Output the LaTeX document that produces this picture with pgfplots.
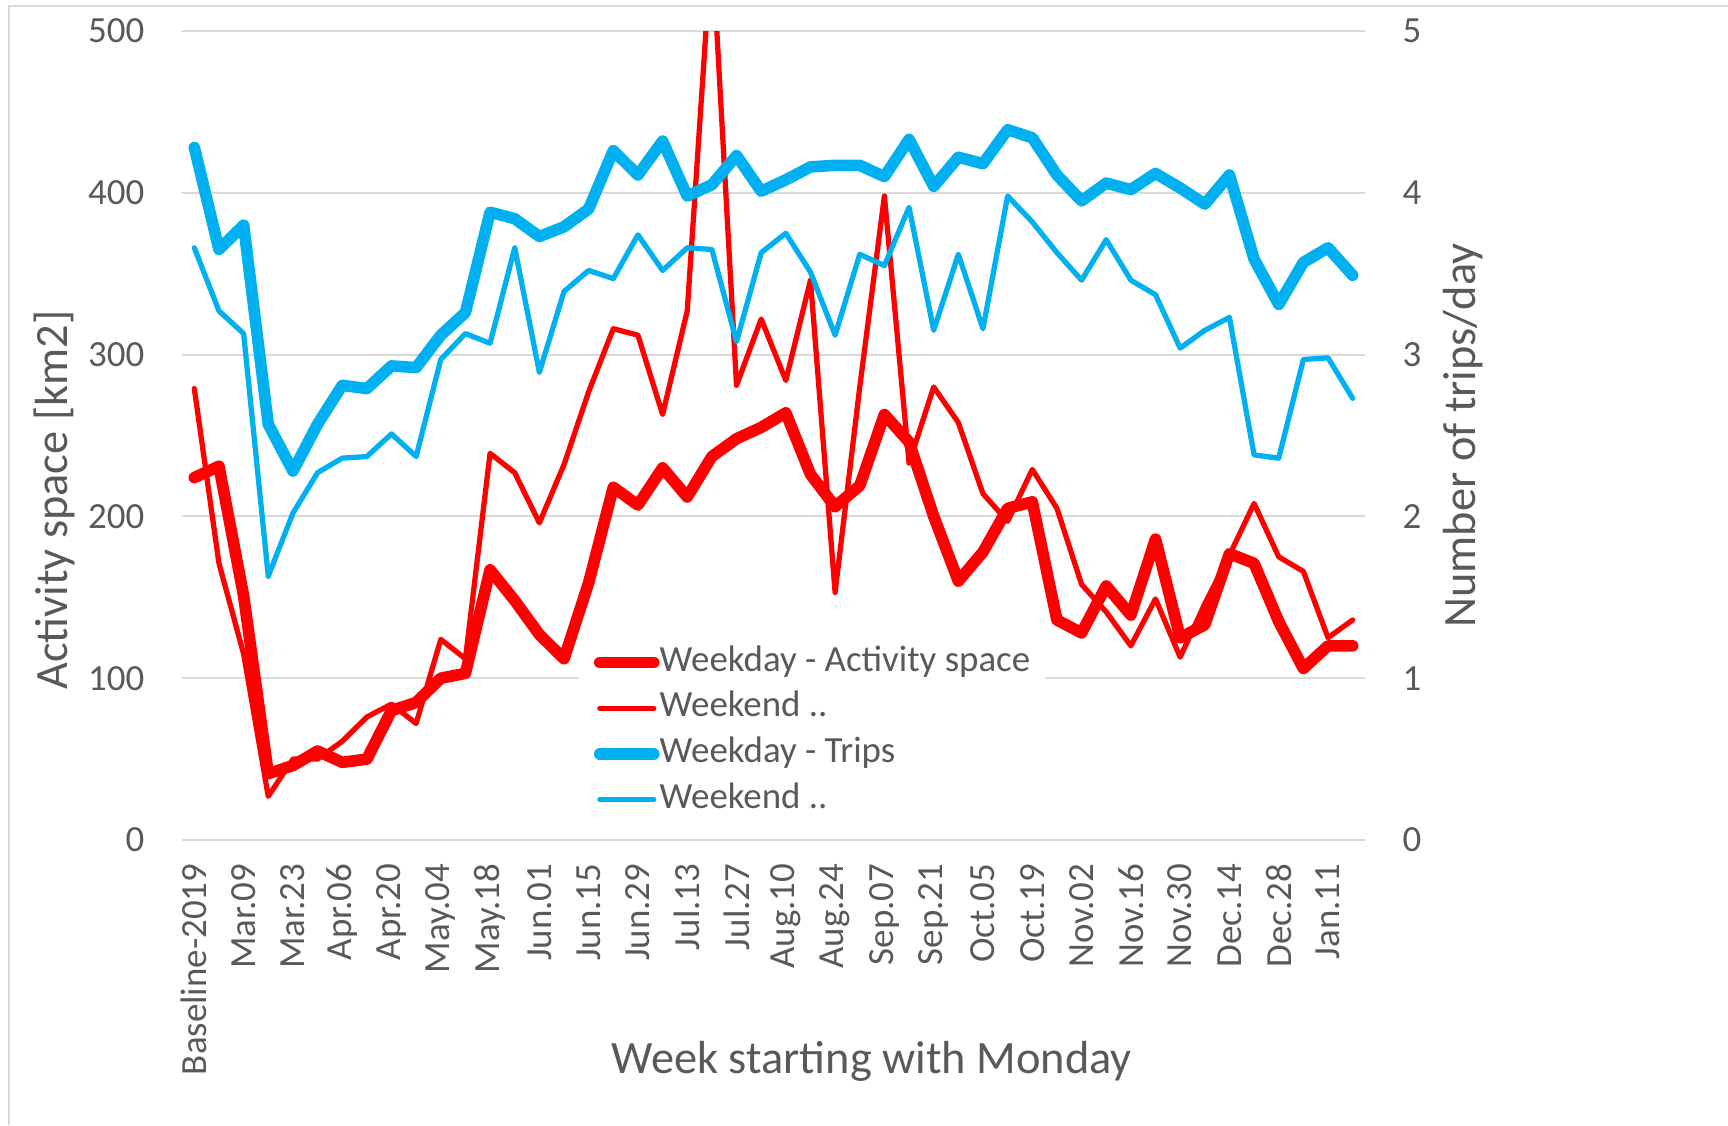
\documentclass[border=0pt]{standalone}
\usepackage{fontspec}
\setmainfont{Carlito}
\usepackage{pgfplots}
\usepackage{pgfplotstable}
\pgfplotsset{compat=1.18}

\definecolor{exred}{HTML}{FF0000}
\definecolor{exblue}{HTML}{00B0F0}
\definecolor{txtgray}{HTML}{595959}
\definecolor{gridgray}{HTML}{D9D9D9}

% week index, weekday / weekend activity space [km2], weekday / weekend trips per day
\pgfplotstableread{
idx wdact weact wdtrip wetrip
0  224 279 4.28 3.66
1  231 171 3.65 3.27
2  151 115 3.80 3.13
3  41  27  2.57 1.63
4  46  50  2.28 2.02
5  55  50  2.57 2.27
6  48  61  2.81 2.36
7  50  76  2.79 2.37
8  80  84  2.93 2.51
9  85  72  2.92 2.37
10 100 124 3.12 2.97
11 103 112 3.26 3.13
12 167 239 3.88 3.07
13 148 227 3.84 3.66
14 127 196 3.73 2.89
15 112 232 3.79 3.39
16 159 277 3.90 3.52
17 218 316 4.26 3.47
18 207 312 4.11 3.74
19 230 263 4.32 3.52
20 212 327 3.98 3.66
21 237 555 4.05 3.65
22 248 281 4.23 3.08
23 255 322 4.01 3.63
24 264 284 4.08 3.75
25 226 346 4.16 3.51
26 206 153 4.17 3.12
27 219 280 4.17 3.62
28 263 398 4.10 3.55
29 246 233 4.33 3.91
30 200 280 4.04 3.15
31 160 258 4.22 3.62
32 178 214 4.18 3.16
33 205 197 4.39 3.98
34 209 229 4.34 3.82
35 136 205 4.11 3.63
36 128 158 3.95 3.46
37 157 141 4.06 3.71
38 139 120 4.02 3.46
39 186 149 4.12 3.37
40 125 113 4.03 3.04
41 133 146 3.93 3.15
42 177 176 4.11 3.23
43 171 208 3.59 2.38
44 135 175 3.31 2.36
45 106 166 3.57 2.97
46 120 125 3.66 2.98
47 120 136 3.49 2.73
}\weeks

\tikzset{
  titlefont/.style={font=\fontsize{13.2}{15}\selectfont, text=txtgray},
  heavyline/.style={line width=3.3pt, line cap=round, line join=round},
  lightline/.style={line width=1.5pt, line cap=round, line join=round},
}

\pgfplotsset{
  base/.style={
    at={(1.82cm,2.85cm)}, anchor=south west,
    width=11.83cm, height=8.09cm, scale only axis,
    xmin=-0.5, xmax=47.5,
    major tick length=0pt,
    axis line style={draw=none},
    no markers,
    tick label style={font=\fontsize{10.5}{12}\selectfont, text=txtgray},
    /pgf/number format/assume math mode=true,
  },
}

\begin{document}
\begin{tikzpicture}
\path[use as bounding box] (0,0) rectangle (17.28,11.25);
\draw[gridgray, line width=0.6pt] (0.09,0) -- (0.09,11.19) -- (17.28,11.19);

\begin{axis}[base,
  ymin=0, ymax=500, ytick={0,100,...,500},
  ymajorgrids, grid style={gridgray, line width=0.6pt},
  xtick={0,2,...,46},
  xticklabels={Baseline-2019,Mar.09,Mar.23,Apr.06,Apr.20,May.04,May.18,Jun.01,Jun.15,Jun.29,Jul.13,Jul.27,Aug.10,Aug.24,Sep.07,Sep.21,Oct.05,Oct.19,Nov.02,Nov.16,Nov.30,Dec.14,Dec.28,Jan.11},
  xticklabel style={rotate=90, anchor=east, inner sep=0pt},
  xticklabel shift=0.23cm,
  yticklabel style={anchor=east, inner sep=0pt, xshift=-0.37cm},
  xlabel={Week starting with Monday},
  ylabel={Activity space [km2]},
  every axis x label/.style={at={(axis description cs:0.583,-0.289)}, anchor=base, titlefont},
  every axis y label/.style={at={(axis description cs:-0.108,0.42)}, rotate=90, anchor=center, titlefont},
  legend cell align=left,
  legend style={at={(axis description cs:0.335,0.2485)}, anchor=north west,
    draw=none, fill=white, inner xsep=0.15cm, inner ysep=0pt,
    row sep=0pt, column sep=0pt,
    nodes={inner xsep=0pt, inner ysep=1.5pt, text height=7.5pt, text depth=2.5pt,
      font=\fontsize{10.5}{12}\selectfont, text=txtgray}},
  legend image code/.code={\path (0cm,0cm) -- (0.54cm,0cm); \draw[#1] (0.06cm,0cm) -- (0.48cm,0cm);},
]
\addplot[exred, heavyline] table[x=idx, y=wdact]{\weeks};
\addlegendentry{Weekday - Activity space}
\addplot[exred, lightline] table[x=idx, y=weact]{\weeks};
\addlegendentry{Weekend ..}
\addlegendimage{exblue, heavyline}
\addlegendentry{Weekday - Trips}
\addlegendimage{exblue, lightline}
\addlegendentry{Weekend ..}
\end{axis}

\begin{axis}[base,
  ymin=0, ymax=5, ytick={0,1,...,5},
  axis y line*=right, hide x axis,
  yticklabel style={anchor=west, inner sep=0pt, xshift=0.37cm},
  ylabel={Number of trips/day},
  every axis y label/.style={at={(axis description cs:1.083,0.5)}, rotate=90, anchor=center, titlefont},
]
\addplot[exblue, heavyline] table[x=idx, y=wdtrip]{\weeks};
\addplot[exblue, lightline] table[x=idx, y=wetrip]{\weeks};
\end{axis}
\end{tikzpicture}
\end{document}
